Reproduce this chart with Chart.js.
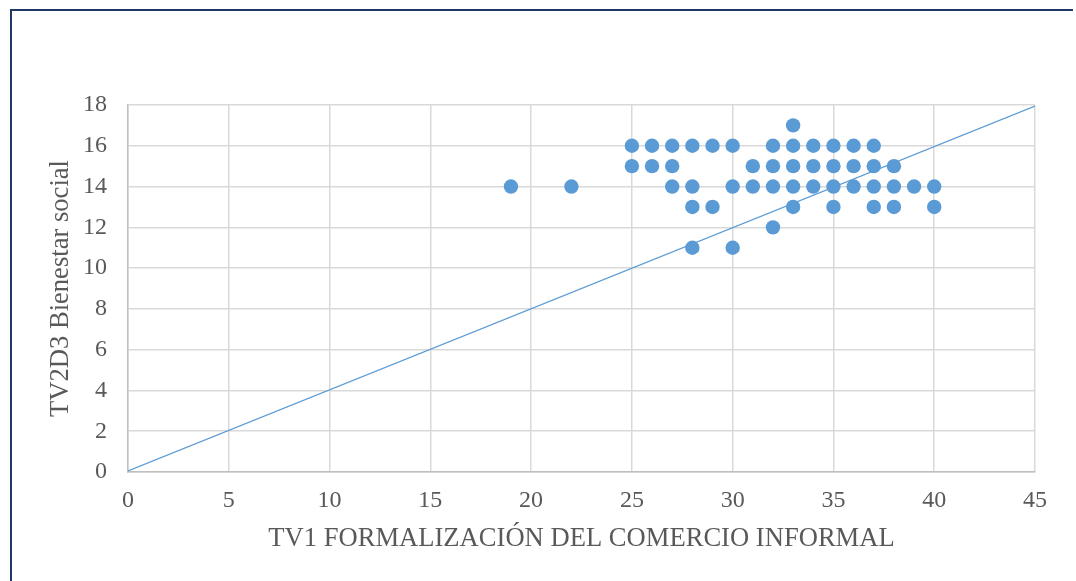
<!DOCTYPE html>
<html>
<head>
<meta charset="utf-8">
<script src="https://cdn.jsdelivr.net/npm/chart.js@4.4.0/dist/chart.umd.min.js"></script>
<style>
  html, body { margin: 0; padding: 0; background: #ffffff; }
  #wrap { position: relative; width: 1076px; height: 581px; }
</style>
</head>
<body>
<div id="wrap"><canvas id="c" width="1076" height="581"></canvas></div>
<script>
// ---- Data ----
const xTitle = "TV1 FORMALIZACIÓN DEL COMERCIO INFORMAL";
const yTitle = "TV2D3 Bienestar social";
const pointsX = [
  33,
  25,26,27,28,29,30,32,33,34,35,36,37,
  25,26,27,31,32,33,34,35,36,37,38,
  19,22,27,28,30,31,32,33,34,35,36,37,38,39,40,
  28,29,33,35,37,38,40,
  32,
  28,30
];
const pointsY = [
  17,
  16,16,16,16,16,16,16,16,16,16,16,16,
  15,15,15,15,15,15,15,15,15,15,15,
  14,14,14,14,14,14,14,14,14,14,14,14,14,14,14,
  13,13,13,13,13,13,13,
  12,
  11,11
];
const trendX = [0, 45];
const trendY = [0.05, 17.95];
const xMin = 0, xMax = 45, xStep = 5;
const yMin = 0, yMax = 18, yStep = 2;

const scatterData = pointsX.map((x, i) => ({ x: x, y: pointsY[i] }));
const trendData = trendX.map((x, i) => ({ x: x, y: trendY[i] }));

const frame = {
  id: 'frame',
  beforeDraw(chart) {
    const ctx = chart.ctx;
    ctx.save();
    ctx.fillStyle = '#ffffff';
    ctx.fillRect(0, 0, chart.width, chart.height);
    ctx.strokeStyle = '#1f3864';
    ctx.lineWidth = 2;
    ctx.beginPath();
    ctx.moveTo(11, 581);
    ctx.lineTo(11, 10);
    ctx.lineTo(1073, 10);
    ctx.stroke();
    ctx.restore();
  }
};

const textColor = '#595959';
const fontFamily = '"Liberation Serif", "Times New Roman", serif';

new Chart(document.getElementById('c'), {
  type: 'scatter',
  data: {
    datasets: [
      {
        type: 'line',
        data: trendData,
        borderColor: '#5b9bd5',
        borderWidth: 1.3,
        pointRadius: 0,
        fill: false,
        tension: 0
      },
      {
        data: scatterData,
        backgroundColor: '#5b9bd5',
        borderColor: '#5b9bd5',
        borderWidth: 0,
        pointRadius: 7.2,
        pointHoverRadius: 7.2
      }
    ]
  },
  options: {
    responsive: false,
    animation: false,
    devicePixelRatio: 1,
    layout: { padding: { left: 40, top: 105, right: 41, bottom: 20 } },
    plugins: { legend: { display: false }, tooltip: { enabled: false } },
    scales: {
      x: {
        type: 'linear',
        min: xMin, max: xMax,
        ticks: { stepSize: xStep, color: textColor, padding: 14, font: { family: fontFamily, size: 24 } },
        grid: { color: '#d9d9d9', lineWidth: 1.5, drawTicks: false },
        border: { color: '#bfbfbf', width: 1.5 },
        title: { display: true, text: xTitle, color: textColor, font: { family: fontFamily, size: 26.6 }, padding: { top: 0, bottom: 6 } },
        afterFit(scale) { scale.height = 89; }
      },
      y: {
        type: 'linear',
        min: yMin, max: yMax,
        ticks: { stepSize: yStep, color: textColor, padding: 21, font: { family: fontFamily, size: 24 } },
        grid: { color: '#d9d9d9', lineWidth: 1.5, drawTicks: false },
        border: { color: '#bfbfbf', width: 1.5 },
        title: { display: true, text: yTitle, color: textColor, font: { family: fontFamily, size: 26.6 }, padding: { top: 5, bottom: 0 } },
        afterFit(scale) { scale.width = 88; }
      }
    }
  },
  plugins: [frame]
});
</script>
</body>
</html>
